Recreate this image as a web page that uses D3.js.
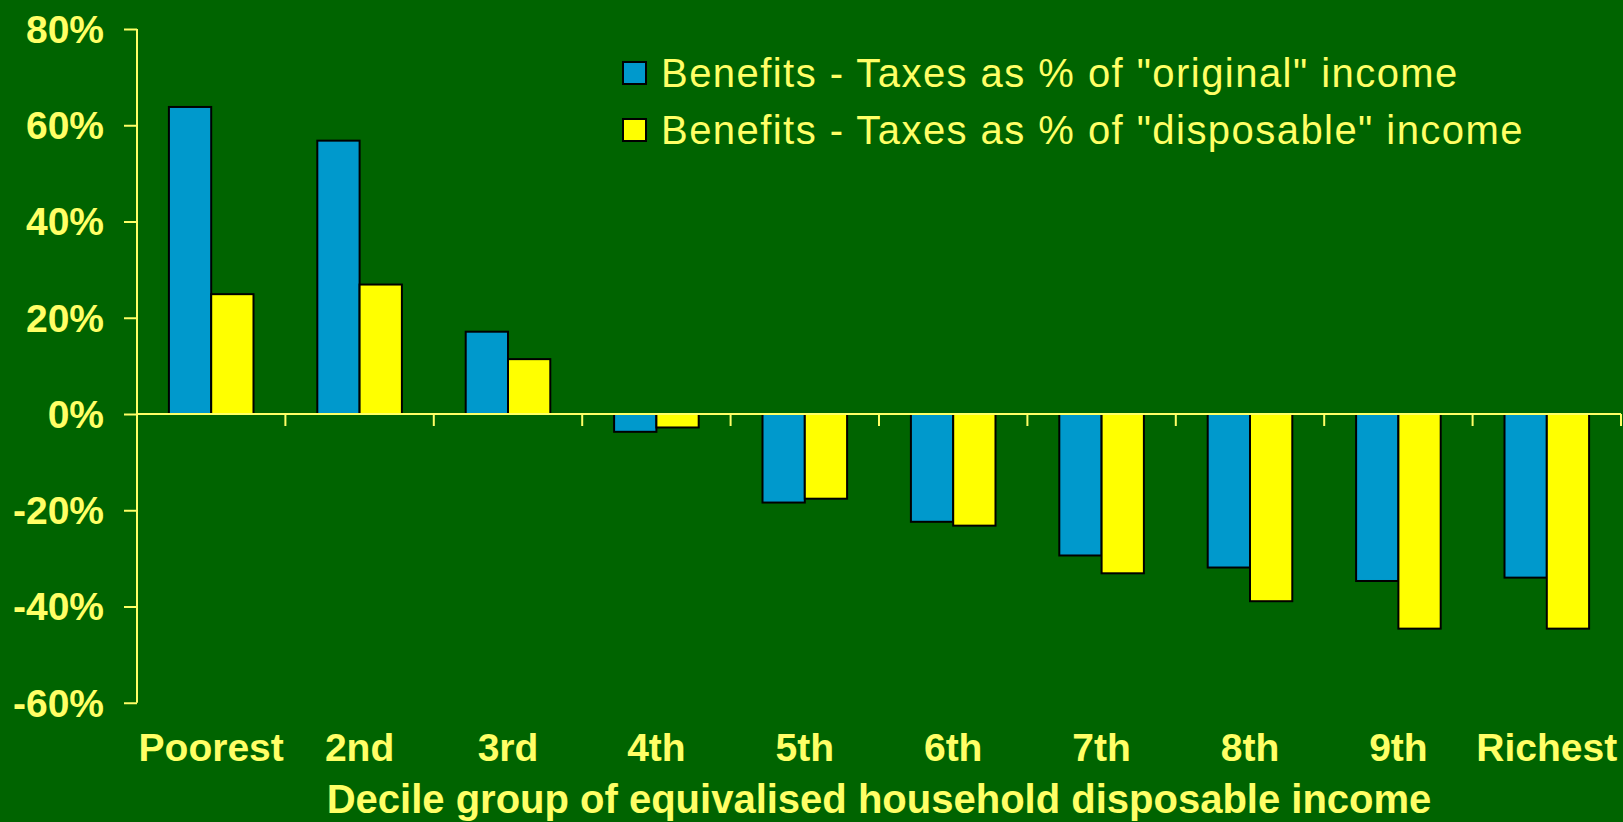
<!DOCTYPE html>
<html>
<head>
<meta charset="utf-8">
<script src="https://cdn.jsdelivr.net/npm/d3@7"></script>
<style>
html, body { margin: 0; padding: 0; background: #006400; }
svg { display: block; }
</style>
</head>
<body>
<svg id="chart" width="1623" height="822"></svg>
<script>
const categories = ["Poorest", "2nd", "3rd", "4th", "5th", "6th", "7th", "8th", "9th", "Richest"];
const seriesNames = ["Benefits - Taxes as % of \"original\" income", "Benefits - Taxes as % of \"disposable\" income"];
const originalValues = [63.8, 56.8, 17.1, -3.7, -18.4, -22.4, -29.4, -31.9, -34.7, -34.0];
const disposableValues = [24.9, 26.9, 11.4, -2.8, -17.6, -23.2, -33.1, -38.9, -44.6, -44.6];
const yTicks = [-60, -40, -20, 0, 20, 40, 60, 80];
const xTitle = "Decile group of equivalised household disposable income";

(function () {
const colors = ["#0099CC", "#FFFF00"];
const textColor = "#FFFF66";
const series = [originalValues, disposableValues];

const svg = d3.select("#chart");
svg.append("rect").attr("width", 1623).attr("height", 822).attr("fill", "#006400");

const plotLeft = 137, plotRight = 1621, plotTop = 29, plotBottom = 702.75;
const y = d3.scaleLinear().domain([-60, 80]).range([plotBottom, plotTop]);
const x0 = d3.scaleBand().domain(categories).range([plotLeft, plotRight]).paddingInner(0.43).paddingOuter(0.215);
const x1 = d3.scaleBand().domain([0, 1]).range([0, x0.bandwidth()]);
const xStep = d3.scaleBand().domain(categories).range([plotLeft, plotRight]);

// bars
const groups = svg.append("g").selectAll("g").data(categories).join("g")
  .attr("transform", d => `translate(${x0(d)},0)`);
groups.selectAll("rect").data((d, i) => series.map((s, k) => ({k, v: s[i]}))).join("rect")
  .attr("x", d => x1(d.k))
  .attr("width", x1.bandwidth())
  .attr("y", d => y(Math.max(0, d.v)))
  .attr("height", d => Math.abs(y(d.v) - y(0)))
  .attr("fill", d => colors[d.k])
  .attr("stroke", "#000")
  .attr("stroke-width", 2);

// y axis
const yAxis = svg.append("g").attr("transform", `translate(${plotLeft},0)`)
  .call(d3.axisLeft(y).tickValues(yTicks).tickSize(13).tickPadding(20).tickFormat(d => d + "%"));
yAxis.select(".domain").attr("stroke", textColor).attr("stroke-width", 2).attr("d", `M0,${plotTop}V${plotBottom}`);
yAxis.selectAll(".tick line").attr("stroke", textColor).attr("stroke-width", 2);
yAxis.selectAll(".tick text").attr("fill", textColor)
  .attr("font-family", "'Liberation Sans', Arial, sans-serif").attr("font-weight", "bold").attr("font-size", 39)
  .attr("dy", "0.34em");

// x axis line at zero with category boundary ticks
const xAxisG = svg.append("g").attr("transform", `translate(0,${y(0)})`);
xAxisG.append("line").attr("x1", plotLeft).attr("x2", plotRight).attr("stroke", textColor).attr("stroke-width", 2);
xAxisG.selectAll("line.tk").data(categories).join("line").attr("class", "tk")
  .attr("x1", d => xStep(d) + xStep.step())
  .attr("x2", d => xStep(d) + xStep.step())
  .attr("y1", 0).attr("y2", 12)
  .attr("stroke", textColor).attr("stroke-width", 2);

// category labels
svg.append("g").selectAll("text").data(categories).join("text")
  .attr("x", d => x0(d) + x0.bandwidth() / 2)
  .attr("y", 761)
  .attr("text-anchor", "middle")
  .attr("fill", textColor)
  .attr("font-family", "'Liberation Sans', Arial, sans-serif").attr("font-weight", "bold").attr("font-size", 39)
  .text(d => d);

// x title
svg.append("text")
  .attr("x", (plotLeft + plotRight) / 2).attr("y", 813)
  .attr("text-anchor", "middle").attr("fill", textColor)
  .attr("font-family", "'Liberation Sans', Arial, sans-serif").attr("font-weight", "bold").attr("font-size", 40)
  .text(xTitle);

// legend
const legend = svg.append("g").selectAll("g").data(seriesNames).join("g")
  .attr("transform", (d, i) => `translate(622,${61 + i * 57})`);
legend.append("rect").attr("x", 1).attr("y", 1).attr("width", 23).attr("height", 22)
  .attr("fill", (d, i) => colors[i]).attr("stroke", "#000").attr("stroke-width", 2);
legend.append("text").attr("x", 39).attr("y", 26)
  .attr("fill", textColor)
  .attr("font-family", "'Liberation Sans', Arial, sans-serif").attr("font-size", 40)
  .attr("letter-spacing", "1.45px")
  .text(d => d);
})();
</script>
</body>
</html>
